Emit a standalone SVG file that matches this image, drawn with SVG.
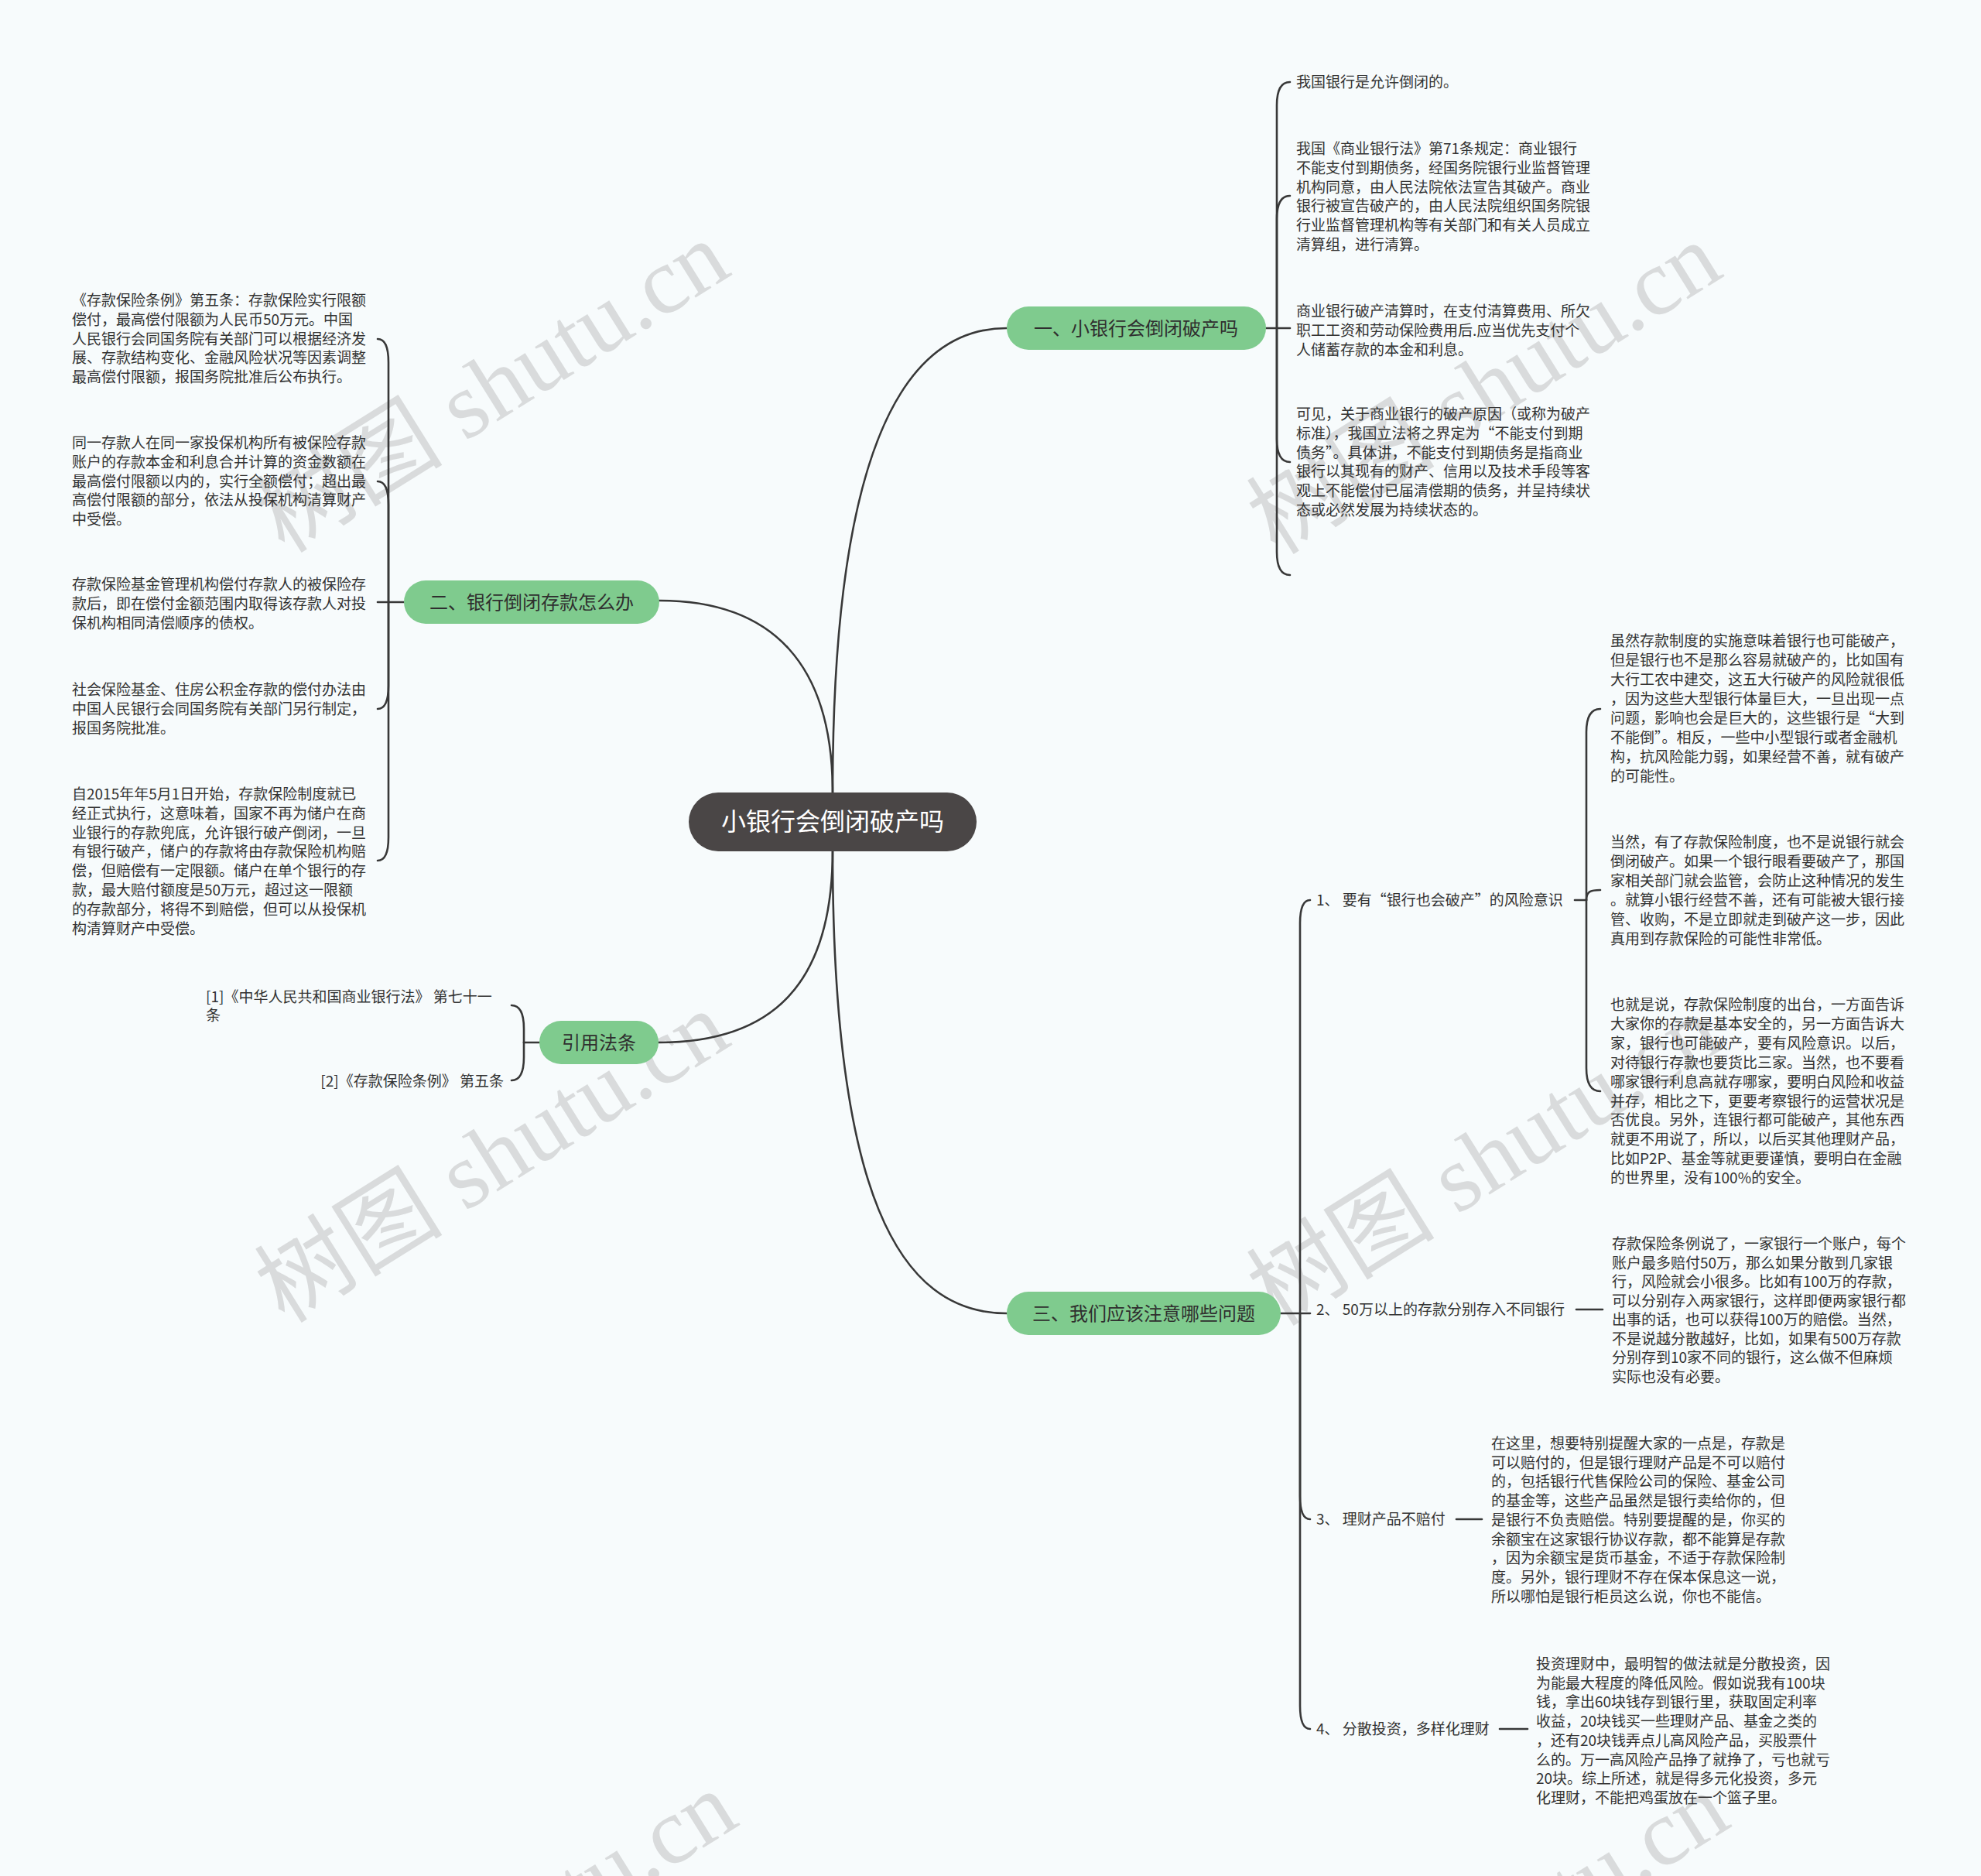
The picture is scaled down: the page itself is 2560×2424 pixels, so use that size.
<svg xmlns="http://www.w3.org/2000/svg" width="2560" height="2424" viewBox="0 0 2560 2424">
<style>
.bg{fill:#f7fbfc}
.wm{font-family:"Liberation Serif","Noto Sans CJK SC",serif;font-size:122px;fill:#d2d4d5;opacity:.8}
.t{font-family:"Noto Sans CJK SC","Liberation Sans",sans-serif;font-size:19px;fill:#333}
.lbl{font-family:"Noto Sans CJK SC","Liberation Sans",sans-serif;font-size:19px;fill:#333}
.br{fill:#7fcb8e}
.brt{font-family:"Noto Sans CJK SC","Liberation Sans",sans-serif;font-size:24px;fill:#2f2f2f;text-anchor:middle}
.root{fill:#4a4646}
.roott{font-family:"Noto Sans CJK SC","Liberation Sans",sans-serif;font-size:32px;fill:#ffffff;text-anchor:middle}
.c{fill:none;stroke:#383838;stroke-width:2.6;stroke-linecap:round}
</style>
<rect class="bg" x="0" y="0" width="2560" height="2424"/>
<g id="watermarks">
<text class="wm" text-anchor="middle" transform="translate(658,535) rotate(-32)">树图 shutu.cn</text>
<text class="wm" text-anchor="middle" transform="translate(1940,537) rotate(-32)">树图 shutu.cn</text>
<text class="wm" text-anchor="middle" transform="translate(658,1530) rotate(-32)">树图 shutu.cn</text>
<text class="wm" text-anchor="middle" transform="translate(1940,1534) rotate(-32)">树图 shutu.cn</text>
<text class="wm" text-anchor="middle" transform="translate(668,2538) rotate(-32)">树图 shutu.cn</text>
<text class="wm" text-anchor="middle" transform="translate(1950,2540) rotate(-32)">树图 shutu.cn</text>
</g>
<g id="connectors">
<path class="c" d="M1076,1024 C1076,600 1160,424 1301,424"/>
<path class="c" d="M1076,1024 C1076,860 1000,776 852,776"/>
<path class="c" d="M1076,1099 C1076,1270 1000,1347 851,1347"/>
<path class="c" d="M1076,1099 C1076,1540 1160,1697 1301,1697"/>
<path class="c" d="M1636,424 H1667"/>
<path class="c" d="M1650,424 V136 Q1650,106 1667,106"/>
<path class="c" d="M1650,424 V283 Q1650,253 1667,253"/>
<path class="c" d="M1650,424 V567 Q1650,597 1667,597"/>
<path class="c" d="M1650,424 V713 Q1650,743 1667,743"/>
<path class="c" d="M522,778 H488"/>
<path class="c" d="M502,778 V468 Q502,438 488,438"/>
<path class="c" d="M502,778 V652 Q502,622 488,622"/>
<path class="c" d="M502,778 V886 Q502,916 488,916"/>
<path class="c" d="M502,778 V1082 Q502,1112 488,1112"/>
<path class="c" d="M697,1347 H677"/>
<path class="c" d="M677,1347 V1329 Q677,1299 661,1299"/>
<path class="c" d="M677,1347 V1366 Q677,1396 661,1396"/>
<path class="c" d="M1655,1697 H1693"/>
<path class="c" d="M1680,1697 V1193 Q1680,1163 1693,1163"/>
<path class="c" d="M1680,1697 V1933 Q1680,1963 1693,1963"/>
<path class="c" d="M1680,1697 V2204 Q1680,2234 1693,2234"/>
<path class="c" d="M2035,1163 H2050"/>
<path class="c" d="M2050,1163 V946 Q2050,916 2068,916"/>
<path class="c" d="M2050,1163 C2050,1152 2055,1150 2068,1150"/>
<path class="c" d="M2050,1163 V1380 Q2050,1410 2068,1410"/>
<path class="c" d="M2037,1692 H2071"/>
<path class="c" d="M1882,1963 H1915"/>
<path class="c" d="M1938,2234 H1974"/>
</g>
<g id="root">
<rect class="root" x="890" y="1024" width="372" height="76" rx="38"/>
<text class="roott" x="1076" y="1073">小银行会倒闭破产吗</text>
</g>
<g id="b1">
<rect class="br" x="1301" y="396" width="335" height="56" rx="28"/>
<text class="brt" x="1468" y="433">一、小银行会倒闭破产吗</text>
</g>
<g id="b2">
<rect class="br" x="522" y="750" width="330" height="56" rx="28"/>
<text class="brt" x="687" y="787">二、银行倒闭存款怎么办</text>
</g>
<g id="b3">
<rect class="br" x="697" y="1319" width="154" height="56" rx="28"/>
<text class="brt" x="774" y="1356">引用法条</text>
</g>
<g id="b4">
<rect class="br" x="1301" y="1669" width="354" height="56" rx="28"/>
<text class="brt" x="1478" y="1706">三、我们应该注意哪些问题</text>
</g>
<g id="b1c1"><text class="t" x="1675" y="113">我国银行是允许倒闭的。</text></g>
<g id="b1c2"><text class="t" x="1675" y="199"><tspan x="1675">我国《商业银行法》第71条规定：商业银行</tspan><tspan x="1675" dy="24.8">不能支付到期债务，经国务院银行业监督管理</tspan><tspan x="1675" dy="24.8">机构同意，由人民法院依法宣告其破产。商业</tspan><tspan x="1675" dy="24.8">银行被宣告破产的，由人民法院组织国务院银</tspan><tspan x="1675" dy="24.8">行业监督管理机构等有关部门和有关人员成立</tspan><tspan x="1675" dy="24.8">清算组，进行清算。</tspan></text></g>
<g id="b1c3"><text class="t" x="1675" y="409"><tspan x="1675">商业银行破产清算时，在支付清算费用、所欠</tspan><tspan x="1675" dy="24.8">职工工资和劳动保险费用后.应当优先支付个</tspan><tspan x="1675" dy="24.8">人储蓄存款的本金和利息。</tspan></text></g>
<g id="b1c4"><text class="t" x="1675" y="542"><tspan x="1675">可见，关于商业银行的破产原因（或称为破产</tspan><tspan x="1675" dy="24.8">标准），我国立法将之界定为“不能支付到期</tspan><tspan x="1675" dy="24.8">债务”。具体讲，不能支付到期债务是指商业</tspan><tspan x="1675" dy="24.8">银行以其现有的财产、信用以及技术手段等客</tspan><tspan x="1675" dy="24.8">观上不能偿付已届清偿期的债务，并呈持续状</tspan><tspan x="1675" dy="24.8">态或必然发展为持续状态的。</tspan></text></g>
<g id="b2c1"><text class="t" x="93" y="395"><tspan x="93">《存款保险条例》第五条：存款保险实行限额</tspan><tspan x="93" dy="24.8">偿付，最高偿付限额为人民币50万元。中国</tspan><tspan x="93" dy="24.8">人民银行会同国务院有关部门可以根据经济发</tspan><tspan x="93" dy="24.8">展、存款结构变化、金融风险状况等因素调整</tspan><tspan x="93" dy="24.8">最高偿付限额，报国务院批准后公布执行。</tspan></text></g>
<g id="b2c2"><text class="t" x="93" y="579"><tspan x="93">同一存款人在同一家投保机构所有被保险存款</tspan><tspan x="93" dy="24.8">账户的存款本金和利息合并计算的资金数额在</tspan><tspan x="93" dy="24.8">最高偿付限额以内的，实行全额偿付；超出最</tspan><tspan x="93" dy="24.8">高偿付限额的部分，依法从投保机构清算财产</tspan><tspan x="93" dy="24.8">中受偿。</tspan></text></g>
<g id="b2c3"><text class="t" x="93" y="762"><tspan x="93">存款保险基金管理机构偿付存款人的被保险存</tspan><tspan x="93" dy="24.8">款后，即在偿付金额范围内取得该存款人对投</tspan><tspan x="93" dy="24.8">保机构相同清偿顺序的债权。</tspan></text></g>
<g id="b2c4"><text class="t" x="93" y="898"><tspan x="93">社会保险基金、住房公积金存款的偿付办法由</tspan><tspan x="93" dy="24.8">中国人民银行会同国务院有关部门另行制定，</tspan><tspan x="93" dy="24.8">报国务院批准。</tspan></text></g>
<g id="b2c5"><text class="t" x="93" y="1033"><tspan x="93">自2015年年5月1日开始，存款保险制度就已</tspan><tspan x="93" dy="24.8">经正式执行，这意味着，国家不再为储户在商</tspan><tspan x="93" dy="24.8">业银行的存款兜底，允许银行破产倒闭，一旦</tspan><tspan x="93" dy="24.8">有银行破产，储户的存款将由存款保险机构赔</tspan><tspan x="93" dy="24.8">偿，但赔偿有一定限额。储户在单个银行的存</tspan><tspan x="93" dy="24.8">款，最大赔付额度是50万元，超过这一限额</tspan><tspan x="93" dy="24.8">的存款部分，将得不到赔偿，但可以从投保机</tspan><tspan x="93" dy="24.8">构清算财产中受偿。</tspan></text></g>
<g id="b3c1"><text class="t" x="266" y="1295"><tspan x="266">[1]《中华人民共和国商业银行法》 第七十一</tspan><tspan x="266" dy="24">条</tspan></text></g>
<g id="b3c2"><text class="t" x="651" y="1404" text-anchor="end">[2]《存款保险条例》 第五条</text></g>
<g id="b4c1"><text class="lbl" x="1701" y="1170">1、 要有“银行也会破产”的风险意识</text></g>
<g id="b4c2"><text class="lbl" x="1701" y="1699">2、 50万以上的存款分别存入不同银行</text></g>
<g id="b4c3"><text class="lbl" x="1701" y="1970">3、 理财产品不赔付</text></g>
<g id="b4c4"><text class="lbl" x="1701" y="2241">4、 分散投资，多样化理财</text></g>
<g id="b4c1a"><text class="t" x="2081" y="835"><tspan x="2081">虽然存款制度的实施意味着银行也可能破产，</tspan><tspan x="2081" dy="25">但是银行也不是那么容易就破产的，比如国有</tspan><tspan x="2081" dy="25">大行工农中建交，这五大行破产的风险就很低</tspan><tspan x="2081" dy="25">，因为这些大型银行体量巨大，一旦出现一点</tspan><tspan x="2081" dy="25">问题，影响也会是巨大的，这些银行是“大到</tspan><tspan x="2081" dy="25">不能倒”。相反，一些中小型银行或者金融机</tspan><tspan x="2081" dy="25">构，抗风险能力弱，如果经营不善，就有破产</tspan><tspan x="2081" dy="25">的可能性。</tspan></text></g>
<g id="b4c1b"><text class="t" x="2081" y="1095"><tspan x="2081">当然，有了存款保险制度，也不是说银行就会</tspan><tspan x="2081" dy="25">倒闭破产。如果一个银行眼看要破产了，那国</tspan><tspan x="2081" dy="25">家相关部门就会监管，会防止这种情况的发生</tspan><tspan x="2081" dy="25">。就算小银行经营不善，还有可能被大银行接</tspan><tspan x="2081" dy="25">管、收购，不是立即就走到破产这一步，因此</tspan><tspan x="2081" dy="25">真用到存款保险的可能性非常低。</tspan></text></g>
<g id="b4c1c"><text class="t" x="2081" y="1305"><tspan x="2081">也就是说，存款保险制度的出台，一方面告诉</tspan><tspan x="2081" dy="24.9">大家你的存款是基本安全的，另一方面告诉大</tspan><tspan x="2081" dy="24.9">家，银行也可能破产，要有风险意识。以后，</tspan><tspan x="2081" dy="24.9">对待银行存款也要货比三家。当然，也不要看</tspan><tspan x="2081" dy="24.9">哪家银行利息高就存哪家，要明白风险和收益</tspan><tspan x="2081" dy="24.9">并存，相比之下，更要考察银行的运营状况是</tspan><tspan x="2081" dy="24.9">否优良。另外，连银行都可能破产，其他东西</tspan><tspan x="2081" dy="24.9">就更不用说了，所以，以后买其他理财产品，</tspan><tspan x="2081" dy="24.9">比如P2P、基金等就更要谨慎，要明白在金融</tspan><tspan x="2081" dy="24.9">的世界里，没有100%的安全。</tspan></text></g>
<g id="b4c2a"><text class="t" x="2083" y="1614"><tspan x="2083">存款保险条例说了，一家银行一个账户，每个</tspan><tspan x="2083" dy="24.5">账户最多赔付50万，那么如果分散到几家银</tspan><tspan x="2083" dy="24.5">行，风险就会小很多。比如有100万的存款，</tspan><tspan x="2083" dy="24.5">可以分别存入两家银行，这样即便两家银行都</tspan><tspan x="2083" dy="24.5">出事的话，也可以获得100万的赔偿。当然，</tspan><tspan x="2083" dy="24.5">不是说越分散越好，比如，如果有500万存款</tspan><tspan x="2083" dy="24.5">分别存到10家不同的银行，这么做不但麻烦</tspan><tspan x="2083" dy="24.5">实际也没有必要。</tspan></text></g>
<g id="b4c3a"><text class="t" x="1927" y="1872"><tspan x="1927">在这里，想要特别提醒大家的一点是，存款是</tspan><tspan x="1927" dy="24.7">可以赔付的，但是银行理财产品是不可以赔付</tspan><tspan x="1927" dy="24.7">的，包括银行代售保险公司的保险、基金公司</tspan><tspan x="1927" dy="24.7">的基金等，这些产品虽然是银行卖给你的，但</tspan><tspan x="1927" dy="24.7">是银行不负责赔偿。特别要提醒的是，你买的</tspan><tspan x="1927" dy="24.7">余额宝在这家银行协议存款，都不能算是存款</tspan><tspan x="1927" dy="24.7">，因为余额宝是货币基金，不适于存款保险制</tspan><tspan x="1927" dy="24.7">度。另外，银行理财不存在保本保息这一说，</tspan><tspan x="1927" dy="24.7">所以哪怕是银行柜员这么说，你也不能信。</tspan></text></g>
<g id="b4c4a"><text class="t" x="1985" y="2157"><tspan x="1985">投资理财中，最明智的做法就是分散投资，因</tspan><tspan x="1985" dy="24.7">为能最大程度的降低风险。假如说我有100块</tspan><tspan x="1985" dy="24.7">钱，拿出60块钱存到银行里，获取固定利率</tspan><tspan x="1985" dy="24.7">收益，20块钱买一些理财产品、基金之类的</tspan><tspan x="1985" dy="24.7">，还有20块钱弄点儿高风险产品，买股票什</tspan><tspan x="1985" dy="24.7">么的。万一高风险产品挣了就挣了，亏也就亏</tspan><tspan x="1985" dy="24.7">20块。综上所述，就是得多元化投资，多元</tspan><tspan x="1985" dy="24.7">化理财，不能把鸡蛋放在一个篮子里。</tspan></text></g>
</svg>
